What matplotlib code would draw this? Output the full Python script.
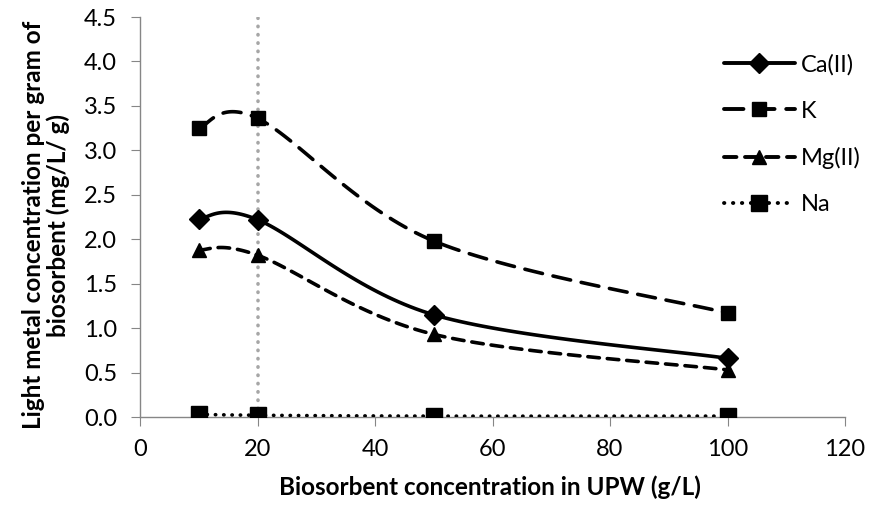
import numpy as np
import matplotlib
matplotlib.use("Agg")
import matplotlib.pyplot as plt
from matplotlib.lines import Line2D

plt.rcParams['font.family'] = ['Lato', 'DejaVu Sans']

x_vals = [10, 20, 50, 100]
ca = [2.23, 2.22, 1.15, 0.66]
k = [3.25, 3.36, 1.98, 1.17]
mg = [1.88, 1.82, 0.93, 0.53]
na = [0.03, 0.02, 0.01, 0.01]
series_names = ["Ca(II)", "K", "Mg(II)", "Na"]
x_ticks = [0, 20, 40, 60, 80, 100, 120]
y_ticks = [0.0, 0.5, 1.0, 1.5, 2.0, 2.5, 3.0, 3.5, 4.0, 4.5]
ref_x = 20


def smooth(xs, ys, n=40):
    P = np.column_stack([xs, ys]).astype(float)
    m = len(P)
    out = []
    for i in range(m - 1):
        p0 = P[i - 1] if i > 0 else P[i]
        p1 = P[i]
        p2 = P[i + 1]
        p3 = P[i + 2] if i + 2 < m else P[i + 1]
        c1 = p1 + (p2 - p0) / 6.0
        c2 = p2 - (p3 - p1) / 6.0
        t = np.linspace(0, 1, n)[:, None]
        seg = ((1 - t) ** 3) * p1 + 3 * ((1 - t) ** 2) * t * c1 + 3 * (1 - t) * t ** 2 * c2 + t ** 3 * p2
        out.append(seg if i == 0 else seg[1:])
    s = np.vstack(out)
    return s[:, 0], s[:, 1]


fig = plt.figure(figsize=(8.74, 5.11), dpi=100)
ax = fig.add_axes([140 / 874, 1 - 417 / 511, 705 / 874, 400 / 511])

ax.axvline(ref_x, ymin=0, ymax=1, color='#A6A6A6', lw=2.6, linestyle=(0, (0.1, 2.2)),
           dash_capstyle='round', zorder=1)

styles = [
    dict(ls='-', marker='D', ms=10.5),
    dict(ls=(0, (5, 3)), marker='s', ms=10),
    dict(ls=(0, (3.2, 2.2)), marker='^', ms=10.5),
    dict(ls=(0, (0.1, 2.2)), marker='s', ms=11.5),
]
handles = []
for ys, name, st in zip([ca, k, mg, na], series_names, styles):
    sx, sy = smooth(x_vals, ys)
    ax.plot(sx, sy, color='black', lw=2.6, linestyle=st['ls'],
            dash_capstyle='round', solid_capstyle='round', zorder=3)
    ax.plot(x_vals, ys, linestyle='none', marker=st['marker'], ms=st['ms'],
            color='black', zorder=4)
    handles.append(Line2D([], [], color='black', lw=2.8, linestyle=st['ls'],
                          dash_capstyle='round', solid_capstyle='round',
                          marker=st['marker'], ms=st['ms'] * 0.95, markevery=[1]))

ax.set_xlim(0, 120)
ax.set_ylim(0, 4.5)
ax.set_xticks(x_ticks)
ax.set_yticks(y_ticks)
ax.set_yticklabels([f"{v:.1f}" for v in y_ticks])
for sp in ['top', 'right']:
    ax.spines[sp].set_visible(False)
for sp in ['left', 'bottom']:
    ax.spines[sp].set_color('#868686')
    ax.spines[sp].set_linewidth(1.0)
ax.tick_params(axis='both', direction='out', length=6.5, color='#868686',
               labelsize=17)
ax.tick_params(axis='y', pad=10)
ax.tick_params(axis='x', pad=9)
ax.set_xlabel("Biosorbent concentration in UPW (g/L)", fontsize=17.5,
              fontweight='bold')
ax.xaxis.set_label_coords(0.497, -0.145)
ax.set_ylabel("Light metal concentration per gram of\nbiosorbent (mg/L/ g)",
              fontsize=17.5, fontweight='bold', linespacing=1.05)
ax.yaxis.set_label_coords(-0.1, 0.48)

leg = fig.legend(handles=handles, labels=series_names, loc='upper left',
                 bbox_to_anchor=(712 / 874, 1 - 42 / 511), frameon=False,
                 fontsize=17, handlelength=3.0, labelspacing=1.07,
                 handletextpad=0.25, borderpad=0)

fig.savefig("out.png", dpi=100)
